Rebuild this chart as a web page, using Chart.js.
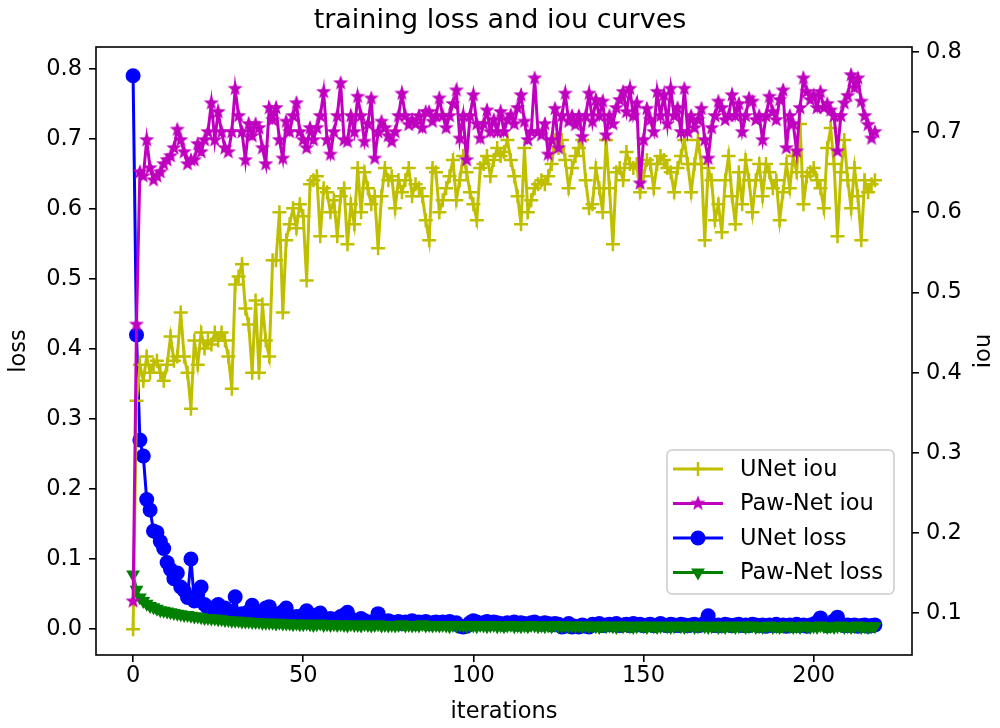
<!DOCTYPE html>
<html>
<head>
<meta charset="utf-8">
<script src="https://cdn.jsdelivr.net/npm/chart.js@4.4.1/dist/chart.umd.min.js"></script>
<style>
body { margin: 0; background: #fff; }
</style>
</head>
<body>
<canvas id="myChart" width="1000" height="728"></canvas>
<script>
// values
const unetIou = [
    0.08, 0.365, 0.41, 0.39, 0.42, 0.40, 0.41, 0.415, 0.40, 0.39,
    0.41, 0.445, 0.415, 0.42, 0.475, 0.42, 0.40, 0.355, 0.44, 0.41,
    0.45, 0.43, 0.44, 0.435, 0.45, 0.44, 0.45, 0.44, 0.42, 0.38,
    0.51, 0.52, 0.535, 0.48, 0.46, 0.40, 0.49, 0.40, 0.485, 0.44,
    0.42, 0.54, 0.54, 0.60, 0.475, 0.565, 0.585, 0.605, 0.58, 0.61,
    0.595, 0.515, 0.635, 0.64, 0.645, 0.57, 0.63, 0.625, 0.60, 0.615,
    0.57, 0.62, 0.63, 0.56, 0.61, 0.585, 0.655, 0.60, 0.65, 0.63,
    0.61, 0.62, 0.555, 0.62, 0.655, 0.64, 0.645, 0.605, 0.64, 0.625,
    0.64, 0.655, 0.62, 0.635, 0.63, 0.62, 0.59, 0.565, 0.655, 0.65,
    0.60, 0.615, 0.63, 0.645, 0.665, 0.615, 0.64, 0.67, 0.65, 0.625,
    0.61, 0.59, 0.655, 0.66, 0.67, 0.645, 0.665, 0.68, 0.67, 0.675,
    0.69, 0.665, 0.645, 0.62, 0.585, 0.68, 0.60, 0.615, 0.63, 0.635,
    0.64, 0.635, 0.645, 0.66, 0.69, 0.68, 0.69, 0.665, 0.63, 0.655,
    0.67, 0.68, 0.69, 0.64, 0.605, 0.61, 0.655, 0.63, 0.60, 0.69,
    0.63, 0.56, 0.65, 0.655, 0.64, 0.675, 0.66, 0.655, 0.66, 0.625,
    0.645, 0.665, 0.66, 0.63, 0.66, 0.67, 0.665, 0.655, 0.65, 0.625,
    0.655, 0.67, 0.69, 0.66, 0.625, 0.66, 0.69, 0.66, 0.565, 0.655,
    0.64, 0.59, 0.61, 0.575, 0.64, 0.67, 0.62, 0.585, 0.65, 0.61,
    0.665, 0.64, 0.60, 0.64, 0.66, 0.62, 0.66, 0.65, 0.63, 0.64,
    0.59, 0.625, 0.66, 0.63, 0.67, 0.65, 0.71, 0.61, 0.645, 0.65,
    0.655, 0.64, 0.63, 0.605, 0.68, 0.705, 0.66, 0.57, 0.65, 0.69,
    0.64, 0.605, 0.655, 0.62, 0.565, 0.64, 0.625, 0.635, 0.64
];
const pawIou = [
    0.115, 0.46, 0.65, 0.645, 0.69, 0.655, 0.64, 0.645, 0.65, 0.66,
    0.665, 0.67, 0.68, 0.703, 0.69, 0.675, 0.66, 0.665, 0.665, 0.685,
    0.675, 0.69, 0.70, 0.736, 0.69, 0.725, 0.70, 0.68, 0.675, 0.70,
    0.754, 0.72, 0.70, 0.665, 0.71, 0.695, 0.71, 0.705, 0.68, 0.66,
    0.73, 0.715, 0.73, 0.69, 0.667, 0.713, 0.70, 0.72, 0.736, 0.70,
    0.69, 0.68, 0.705, 0.69, 0.705, 0.72, 0.75, 0.69, 0.672, 0.70,
    0.72, 0.761, 0.69, 0.688, 0.72, 0.70, 0.744, 0.72, 0.688, 0.71,
    0.742, 0.667, 0.70, 0.713, 0.705, 0.695, 0.688, 0.70, 0.72, 0.748,
    0.72, 0.709, 0.715, 0.71, 0.72, 0.705, 0.725, 0.725, 0.713, 0.72,
    0.742, 0.72, 0.705, 0.72, 0.735, 0.752, 0.692, 0.72, 0.665, 0.72,
    0.746, 0.71, 0.692, 0.71, 0.727, 0.70, 0.715, 0.70, 0.725, 0.70,
    0.715, 0.721, 0.71, 0.73, 0.746, 0.713, 0.69, 0.70, 0.767, 0.70,
    0.696, 0.71, 0.672, 0.69, 0.729, 0.68, 0.72, 0.748, 0.713, 0.72,
    0.709, 0.72, 0.694, 0.72, 0.748, 0.713, 0.74, 0.72, 0.738, 0.696,
    0.72, 0.71, 0.73, 0.74, 0.75, 0.725, 0.754, 0.72, 0.736, 0.636,
    0.69, 0.729, 0.715, 0.70, 0.75, 0.72, 0.746, 0.71, 0.754, 0.72,
    0.73, 0.70, 0.754, 0.70, 0.72, 0.705, 0.715, 0.729, 0.69, 0.667,
    0.705, 0.72, 0.738, 0.73, 0.715, 0.72, 0.746, 0.72, 0.735, 0.70,
    0.72, 0.742, 0.738, 0.715, 0.72, 0.69, 0.72, 0.744, 0.725, 0.715,
    0.74, 0.752, 0.68, 0.72, 0.71, 0.676, 0.73, 0.767, 0.75, 0.74,
    0.746, 0.73, 0.75, 0.73, 0.735, 0.727, 0.72, 0.676, 0.72, 0.736,
    0.745, 0.771, 0.755, 0.767, 0.738, 0.72, 0.709, 0.692, 0.70
];
const unetLoss = [
    0.79, 0.42, 0.27, 0.247, 0.185, 0.17, 0.14, 0.138, 0.125, 0.115,
    0.095, 0.085, 0.072, 0.08, 0.06, 0.055, 0.045, 0.10, 0.04, 0.05,
    0.06, 0.035, 0.03, 0.03, 0.028, 0.035, 0.025, 0.03, 0.02, 0.025,
    0.046, 0.02, 0.022, 0.018, 0.025, 0.034, 0.02, 0.018, 0.016, 0.03,
    0.032, 0.02, 0.018, 0.022, 0.025, 0.03, 0.016, 0.015, 0.018, 0.014,
    0.02, 0.026, 0.014, 0.015, 0.02, 0.023, 0.014, 0.012, 0.015, 0.013,
    0.014, 0.018, 0.02, 0.024, 0.012, 0.013, 0.011, 0.015, 0.012, 0.01,
    0.01, 0.012, 0.022, 0.011, 0.009, 0.012, 0.01, 0.009, 0.011, 0.008,
    0.01, 0.009, 0.012, 0.008, 0.01, 0.009, 0.011, 0.008, 0.009, 0.01,
    0.008, 0.01, 0.009, 0.011, 0.008, 0.009, 0.004, 0.003, 0.004, 0.009,
    0.012, 0.01, 0.008, 0.009, 0.011, 0.008, 0.01, 0.009, 0.008, 0.007,
    0.009, 0.008, 0.01, 0.007, 0.009, 0.008, 0.007, 0.009, 0.01, 0.008,
    0.007, 0.009, 0.008, 0.006, 0.008, 0.007, 0.003, 0.004, 0.008, 0.003,
    0.004, 0.003, 0.006, 0.004, 0.003, 0.007, 0.006, 0.008, 0.005, 0.006,
    0.007, 0.006, 0.008, 0.005, 0.006, 0.007, 0.005, 0.008, 0.006, 0.007,
    0.005, 0.006, 0.007, 0.005, 0.006, 0.008, 0.006, 0.005, 0.007, 0.006,
    0.005, 0.007, 0.006, 0.005, 0.006, 0.007, 0.005, 0.006, 0.009, 0.019,
    0.007, 0.005, 0.006, 0.005, 0.007, 0.006, 0.005, 0.006, 0.007, 0.005,
    0.006, 0.005, 0.007, 0.006, 0.005, 0.006, 0.004, 0.006, 0.005, 0.007,
    0.005, 0.006, 0.004, 0.006, 0.005, 0.007, 0.005, 0.006, 0.004, 0.006,
    0.007, 0.01, 0.016, 0.008, 0.005, 0.006, 0.012, 0.017, 0.007, 0.005,
    0.006, 0.005, 0.006, 0.004, 0.005, 0.006, 0.004, 0.005, 0.006
];
const pawLoss = [
    0.078, 0.056, 0.045, 0.04, 0.036, 0.033, 0.031, 0.029, 0.027, 0.026,
    0.025, 0.024, 0.023, 0.022, 0.021, 0.02, 0.02, 0.019, 0.018, 0.018,
    0.017, 0.016, 0.016, 0.015, 0.015, 0.014, 0.014, 0.013, 0.013, 0.012,
    0.012, 0.012, 0.011, 0.011, 0.011, 0.01, 0.01, 0.01, 0.009, 0.009,
    0.009, 0.009, 0.008, 0.009, 0.008, 0.008, 0.008, 0.007, 0.008, 0.007,
    0.007, 0.008, 0.007, 0.006, 0.007, 0.008, 0.006, 0.007, 0.006, 0.007,
    0.006, 0.007, 0.006, 0.005, 0.007, 0.006, 0.006, 0.005, 0.007, 0.006,
    0.005, 0.006, 0.007, 0.005, 0.006, 0.005, 0.006, 0.005, 0.006, 0.007,
    0.005, 0.006, 0.005, 0.006, 0.005, 0.007, 0.005, 0.006, 0.005, 0.006,
    0.005, 0.006, 0.005, 0.004, 0.006, 0.005, 0.006, 0.005, 0.004, 0.006,
    0.005, 0.004, 0.006, 0.005, 0.004, 0.005, 0.006, 0.004, 0.005, 0.004,
    0.005, 0.006, 0.004, 0.005, 0.004, 0.005, 0.004, 0.006, 0.005, 0.004,
    0.005, 0.004, 0.005, 0.004, 0.006, 0.005, 0.004, 0.005, 0.004, 0.005,
    0.004, 0.005, 0.004, 0.005, 0.004, 0.005, 0.004, 0.003, 0.005, 0.004,
    0.005, 0.004, 0.003, 0.005, 0.004, 0.005, 0.004, 0.003, 0.004, 0.005,
    0.004, 0.003, 0.005, 0.004, 0.003, 0.004, 0.005, 0.004, 0.003, 0.004,
    0.005, 0.004, 0.003, 0.004, 0.005, 0.003, 0.004, 0.005, 0.004, 0.003,
    0.004, 0.005, 0.003, 0.004, 0.003, 0.005, 0.004, 0.003, 0.004, 0.005,
    0.003, 0.004, 0.005, 0.003, 0.004, 0.003, 0.004, 0.005, 0.003, 0.004,
    0.003, 0.004, 0.005, 0.004, 0.003, 0.004, 0.003, 0.005, 0.004, 0.003,
    0.004, 0.003, 0.005, 0.004, 0.003, 0.004, 0.003, 0.004, 0.005, 0.003,
    0.004, 0.003, 0.004, 0.005, 0.003, 0.004, 0.003, 0.004, 0.004
];
const iterTicks = [0, 50, 100, 150, 200];
const lossTicks = [0.0, 0.1, 0.2, 0.3, 0.4, 0.5, 0.6, 0.7, 0.8];
const iouTicks = [0.1, 0.2, 0.3, 0.4, 0.5, 0.6, 0.7, 0.8];

const FONT = 'DejaVu Sans';
const TEXT_SIZE = 22.5;
const OLIVE = '#bfbf00', MAGENTA = '#bf00bf', BLUE = '#0000ff', GREEN = '#008000';

function makeStar(color, r) {
    const c = document.createElement('canvas');
    const s = Math.ceil(r * 2 + 2);
    c.width = s;
    c.height = s;
    const g = c.getContext('2d');
    g.fillStyle = color;
    g.beginPath();
    for (let k = 0; k < 10; k++) {
        const rr = k % 2 === 0 ? r : r * 0.42;
        const a = -Math.PI / 2 + k * Math.PI / 5;
        g.lineTo(s / 2 + rr * Math.cos(a), s / 2 + rr * Math.sin(a));
    }
    g.closePath();
    g.fill();
    return c;
}
const starImg = makeStar(MAGENTA, 8);

const xs = unetIou.map((v, i) => i);
function toPoints(arr) {
    return arr.map((v, i) => ({ x: xs[i], y: v }));
}

function lineSet(label, arr, color, axis, order, extra) {
    return Object.assign({
        label: label,
        data: toPoints(arr),
        yAxisID: axis,
        borderColor: color,
        backgroundColor: color,
        pointBackgroundColor: color,
        pointBorderColor: color,
        borderWidth: 3,
        tension: 0,
        order: order
    }, extra);
}

function drawMarker(g, kind, x, y, color) {
    g.save();
    g.fillStyle = color;
    g.strokeStyle = color;
    if (kind === 'cross') {
        g.lineWidth = 2.5;
        g.beginPath();
        g.moveTo(x - 7, y); g.lineTo(x + 7, y);
        g.moveTo(x, y - 7); g.lineTo(x, y + 7);
        g.stroke();
    } else if (kind === 'star') {
        g.drawImage(starImg, x - starImg.width / 2, y - starImg.height / 2);
    } else if (kind === 'circle') {
        g.beginPath();
        g.arc(x, y, 7.5, 0, Math.PI * 2);
        g.fill();
    } else {
        const r = 8;
        g.beginPath();
        g.moveTo(x, y + r);
        g.lineTo(x - r * 0.866, y - r / 2);
        g.lineTo(x + r * 0.866, y - r / 2);
        g.closePath();
        g.fill();
    }
    g.restore();
}

const legendItems = [
    { text: 'UNet iou', color: OLIVE, kind: 'cross' },
    { text: 'Paw-Net iou', color: MAGENTA, kind: 'star' },
    { text: 'UNet loss', color: BLUE, kind: 'circle' },
    { text: 'Paw-Net loss', color: GREEN, kind: 'tri' }
];

const extrasPlugin = {
    id: 'extras',
    afterDatasetsDraw(chart) {
        const a = chart.chartArea;
        const g = chart.ctx;
        g.save();
        g.strokeStyle = '#000';
        g.lineWidth = 1.6;
        g.strokeRect(a.left, a.top, a.right - a.left, a.bottom - a.top);
        g.restore();
    },
    afterDraw(chart) {
        const g = chart.ctx;
        g.save();
        // right axis label, bottom-to-top like matplotlib
        g.translate(984, 351);
        g.rotate(-Math.PI / 2);
        g.font = TEXT_SIZE + 'px "' + FONT + '"';
        g.fillStyle = '#000';
        g.textAlign = 'center';
        g.textBaseline = 'middle';
        g.fillText('iou', 0, 0);
        g.restore();

        // legend box inside the plot
        g.save();
        g.fillStyle = 'rgba(255,255,255,0.8)';
        g.strokeStyle = '#cccccc';
        g.lineWidth = 1.5;
        g.beginPath();
        g.roundRect(667, 450, 227, 144, 5);
        g.fill();
        g.stroke();
        g.font = TEXT_SIZE + 'px "' + FONT + '"';
        g.textBaseline = 'middle';
        legendItems.forEach((it, k) => {
            const y = 469 + k * 34.5;
            g.strokeStyle = it.color;
            g.lineWidth = 3;
            g.beginPath();
            g.moveTo(673, y);
            g.lineTo(723, y);
            g.stroke();
            drawMarker(g, it.kind, 698, y, it.color);
            g.fillStyle = '#000';
            g.fillText(it.text, 740, y + 1);
        });
        g.restore();
    }
};

const tickFont = { family: FONT, size: TEXT_SIZE };
const axisGrid = { display: true, drawOnChartArea: false, drawTicks: true, tickLength: 7, color: '#000', lineWidth: 1.6 };

const ctx = document.getElementById('myChart').getContext('2d');
const myChart = new Chart(ctx, {
    type: 'line',
    data: {
        datasets: [
            lineSet('UNet iou', unetIou, OLIVE, 'yIou', 2, { pointStyle: 'cross', pointRadius: 7, pointBorderWidth: 2.5 }),
            lineSet('Paw-Net iou', pawIou, MAGENTA, 'yIou', 1, { pointStyle: starImg, pointRadius: 8 }),
            lineSet('UNet loss', unetLoss, BLUE, 'yLoss', 4, { pointStyle: 'circle', pointRadius: 7.5, pointBorderWidth: 0 }),
            lineSet('Paw-Net loss', pawLoss, GREEN, 'yLoss', 3, { pointStyle: 'triangle', pointRotation: 180, pointRadius: 8, pointBorderWidth: 0 })
        ]
    },
    options: {
        responsive: false,
        animation: false,
        events: [],
        layout: { padding: 0 },
        plugins: {
            legend: { display: false },
            tooltip: { enabled: false },
            title: {
                display: true,
                text: 'training loss and iou curves',
                color: '#000',
                font: { family: FONT, size: 27, weight: 'normal' },
                padding: { top: 5, bottom: 9.6 }
            }
        },
        scales: {
            x: {
                type: 'linear',
                min: -10.9,
                max: 228.9,
                afterFit: s => { s.height = 73; },
                afterBuildTicks: s => { s.ticks = iterTicks.map(v => ({ value: v })); },
                ticks: { font: tickFont, color: '#000', padding: 1, maxRotation: 0, autoSkip: false, callback: v => String(v) },
                grid: axisGrid,
                border: { display: false },
                title: { display: true, text: 'iterations', color: '#000', font: tickFont, padding: { top: 0, bottom: 2 } }
            },
            yLoss: {
                type: 'linear',
                position: 'left',
                min: -0.037,
                max: 0.831,
                afterFit: s => { s.width = 96; },
                afterBuildTicks: s => { s.ticks = lossTicks.map(v => ({ value: v })); },
                ticks: { font: tickFont, color: '#000', padding: 7, autoSkip: false, callback: v => v.toFixed(1) },
                grid: axisGrid,
                border: { display: false },
                title: { display: true, text: 'loss', color: '#000', font: tickFont, padding: { top: 6, bottom: 0 } }
            },
            yIou: {
                type: 'linear',
                position: 'right',
                min: 0.048,
                max: 0.806,
                afterFit: s => { s.width = 88; },
                afterBuildTicks: s => { s.ticks = iouTicks.map(v => ({ value: v })); },
                ticks: { font: tickFont, color: '#000', padding: 7, autoSkip: false, callback: v => v.toFixed(1) },
                grid: axisGrid,
                border: { display: false }
            }
        }
    },
    plugins: [extrasPlugin]
});
</script>
</body>
</html>
